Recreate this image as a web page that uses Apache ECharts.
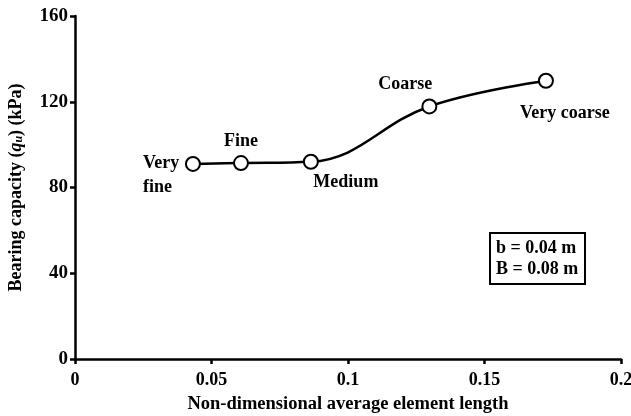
<!DOCTYPE html>
<html>
<head>
<meta charset="utf-8">
<script src="https://cdn.jsdelivr.net/npm/echarts@6/dist/echarts.min.js"></script>
<style>html,body{margin:0;padding:0;background:#fff}#c{width:631px;height:416px}</style>
</head>
<body>
<div id="c"></div>
<script>
const categories = ['Very\nfine', 'Fine', 'Medium', 'Coarse', 'Very coarse'];
const xValues = [0.0432, 0.0608, 0.0864, 0.1298, 0.1725];
const yValues = [91.0, 91.4, 92.0, 117.8, 129.8];
const xTicks = [0, 0.05, 0.1, 0.15, 0.2];
const yTicks = [0, 40, 80, 120, 160];

const FONT = '"Liberation Serif","Times New Roman",serif';
const labelCfg = [
  {position: [-42, -5], align: 'left', verticalAlign: 'top', lineHeight: 24},
  {position: 'top', distance: 5},
  {position: 'bottom', distance: 4, offset: [35, 0]},
  {position: 'top', distance: 5, offset: [-24, 0]},
  {position: 'bottom', distance: 16, offset: [19, 0]}
];

const data = xValues.map((x, i) => ({
  value: [x, yValues[i]],
  name: categories[i],
  label: Object.assign({show: true, formatter: '{b}', color: '#000', fontFamily: FONT, fontWeight: 'bold', fontSize: 18}, labelCfg[i])
}));

const chart = echarts.init(document.getElementById('c'), null, {renderer: 'canvas'});
chart.setOption({
  animation: false,
  backgroundColor: '#fff',
  grid: {left: 75, right: 10, top: 16, bottom: 57, containLabel: false, outerBoundsMode: 'none'},
  title: {
    text: 'b = 0.04 m\nB = 0.08 m',
    left: 490, top: 233,
    borderColor: '#000', borderWidth: 2,
    padding: [5, 7, 4, 6],
    textStyle: {fontFamily: FONT, fontWeight: 'bold', fontSize: 18, lineHeight: 21, color: '#000'}
  },
  xAxis: {
    type: 'value', min: xTicks[0], max: xTicks[xTicks.length - 1], interval: 0.05,
    name: 'Non-dimensional average element length',
    nameLocation: 'middle', nameGap: 36,
    nameTextStyle: {fontFamily: FONT, fontWeight: 'bold', fontSize: 18.5, color: '#000'},
    axisLine: {show: true, lineStyle: {color: '#000', width: 2.5}},
    axisTick: {show: true, length: 5, lineStyle: {color: '#000', width: 2.5}},
    axisLabel: {margin: 12, fontFamily: FONT, fontWeight: 'bold', fontSize: 18, color: '#000', formatter: v => String(v)},
    splitLine: {show: false}
  },
  yAxis: {
    type: 'value', min: yTicks[0], max: yTicks[yTicks.length - 1], interval: 40,
    name: 'Bearing capacity ({i|q}{s|u}) (kPa)',
    nameLocation: 'middle', nameGap: 50, nameRotate: 90,
    nameTextStyle: {
      fontFamily: FONT, fontWeight: 'bold', fontSize: 18, color: '#000',
      rich: {
        i: {fontFamily: FONT, fontWeight: 'bold', fontStyle: 'italic', fontSize: 18, color: '#000'},
        s: {fontFamily: FONT, fontWeight: 'bold', fontStyle: 'italic', fontSize: 12, color: '#000', verticalAlign: 'bottom', padding: [6, 0, 0, 0]}
      }
    },
    axisLine: {show: true, lineStyle: {color: '#000', width: 2.5}},
    axisTick: {show: true, length: 5, lineStyle: {color: '#000', width: 2.5}},
    axisLabel: {margin: 7, fontFamily: FONT, fontWeight: 'bold', fontSize: 19, color: '#000'},
    splitLine: {show: false}
  },
  series: [{
    type: 'line',
    data: data,
    smooth: 0.4,
    symbol: 'emptyCircle',
    symbolSize: 14,
    lineStyle: {color: '#000', width: 2.5},
    itemStyle: {color: '#000', borderColor: '#000', borderWidth: 2}
  }]
});
</script>
</body>
</html>
